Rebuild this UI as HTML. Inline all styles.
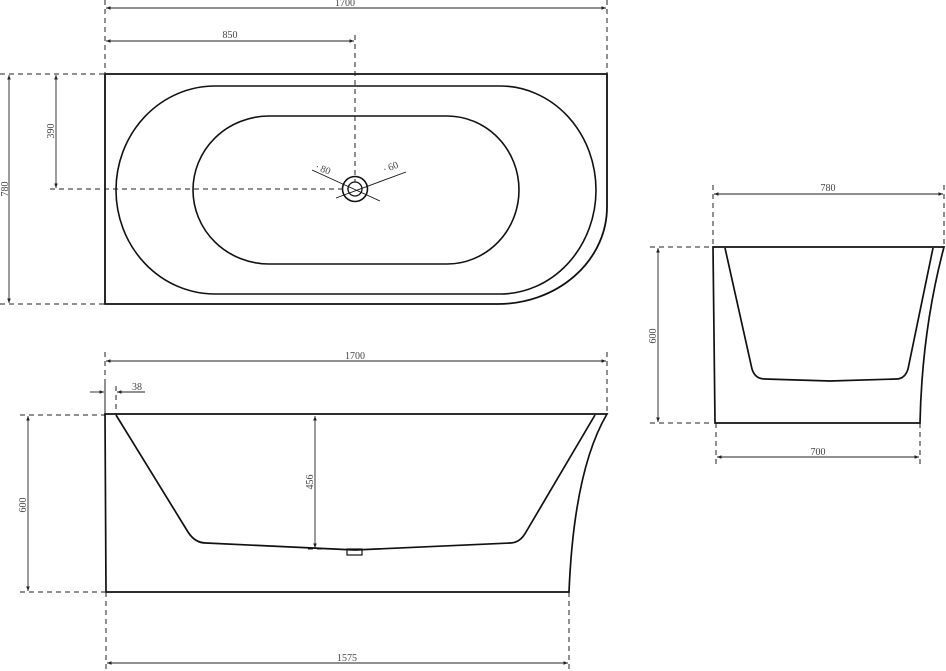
<!DOCTYPE html>
<html><head><meta charset="utf-8"><style>
html,body{margin:0;padding:0;background:#fff;}
svg{display:block}
text{font-family:"Liberation Serif",serif;font-size:10px;fill:#444}
</style></head><body>
<svg width="946" height="671" viewBox="0 0 946 671" xmlns="http://www.w3.org/2000/svg">
<defs>
<marker id="a" viewBox="0 0 10 10" refX="10" refY="5" markerWidth="7" markerHeight="5" orient="auto-start-reverse"><path d="M0,1L10,5L0,9z" fill="#222"/></marker>
</defs>
<g fill="none" stroke="#111">
<!-- TOP VIEW -->
<path d="M105,74H607V207A109,97 0 0 1 498,304H105Z" stroke-width="1.8"/>
<path d="M215,86H500A96,104 0 0 1 500,294H215A99,104 0 0 1 215,86Z" stroke-width="1.6"/>
<path d="M269,116H447A72,74 0 0 1 447,264H269A76,74 0 0 1 269,116Z" stroke-width="1.6"/>
<circle cx="355" cy="189" r="12.5" stroke-width="1.6"/>
<circle cx="355" cy="189" r="7" stroke-width="1.3"/>
<path d="M312,170L380,201M406,172L336,198" stroke-width="0.9"/>
</g>
<g stroke="#222" stroke-width="1" fill="none" stroke-dasharray="5,4">
<path d="M105,0V74M607,0V74M355,35V182M0,74H105M0,304H105M50,189H348"/>
<!-- side view -->
<path d="M105,352V414M607,352V414M20,415H105M20,592H105M106,592V671M569,592V671M308,549H340M116,386V414M105,384V414"/>
<!-- end view -->
<path d="M713,185V247M944,185V247M650,247H713M650,423H713M716,423V465M920,423V465"/>
</g>
<g stroke="#222" stroke-width="0.9" fill="none">
<path d="M106,8H606" marker-start="url(#a)" marker-end="url(#a)"/>
<path d="M106,41H354" marker-start="url(#a)" marker-end="url(#a)"/>
<path d="M9,75V303" marker-start="url(#a)" marker-end="url(#a)"/>
<path d="M56,75V188" marker-start="url(#a)" marker-end="url(#a)"/>
<path d="M106,361H606" marker-start="url(#a)" marker-end="url(#a)"/>
<path d="M90,392H104" marker-end="url(#a)"/><path d="M145,392H117" marker-end="url(#a)"/>
<path d="M28,416V591" marker-start="url(#a)" marker-end="url(#a)"/>
<path d="M315,416V548" marker-start="url(#a)" marker-end="url(#a)"/>
<path d="M107,663H568" marker-start="url(#a)" marker-end="url(#a)"/>
<path d="M714,194H943" marker-start="url(#a)" marker-end="url(#a)"/>
<path d="M658,248V422" marker-start="url(#a)" marker-end="url(#a)"/>
<path d="M717,457H919" marker-start="url(#a)" marker-end="url(#a)"/>
</g>
<g fill="none" stroke="#111" stroke-width="1.7">
<!-- side view body -->
<path d="M105,414H607Q574,470 569,592H106Z"/>
<path d="M116,415L188,532Q195,543 206,543L355,550L510,543Q520,543 526,532L595,415"/>
<rect x="347" y="549" width="15" height="6" stroke-width="1.2"/>
<!-- end view body -->
<path d="M713,247H944Q922,330 920,423H715Z"/>
<path d="M725,248L752,369Q755,379 765,379L830,381L896,379Q905,379 908,369L933,248"/>
</g>
<text x="345" y="6" text-anchor="middle">1700</text>
<text x="230" y="38" text-anchor="middle">850</text>
<text transform="translate(8,189) rotate(-90)" text-anchor="middle">780</text>
<text transform="translate(54,131) rotate(-90)" text-anchor="middle">390</text>
<text transform="translate(322,172) rotate(22)" text-anchor="middle">∙ 80</text>
<text transform="translate(392,170) rotate(-22)" text-anchor="middle">∙ 60</text>
<text x="355" y="359" text-anchor="middle">1700</text>
<text x="137" y="390" text-anchor="middle">38</text>
<text transform="translate(26,505) rotate(-90)" text-anchor="middle">600</text>
<text transform="translate(313,482) rotate(-90)" text-anchor="middle">456</text>
<text x="347" y="661" text-anchor="middle">1575</text>
<text x="828" y="191" text-anchor="middle">780</text>
<text transform="translate(656,336) rotate(-90)" text-anchor="middle">600</text>
<text x="818" y="455" text-anchor="middle">700</text>
</svg>
</body></html>
